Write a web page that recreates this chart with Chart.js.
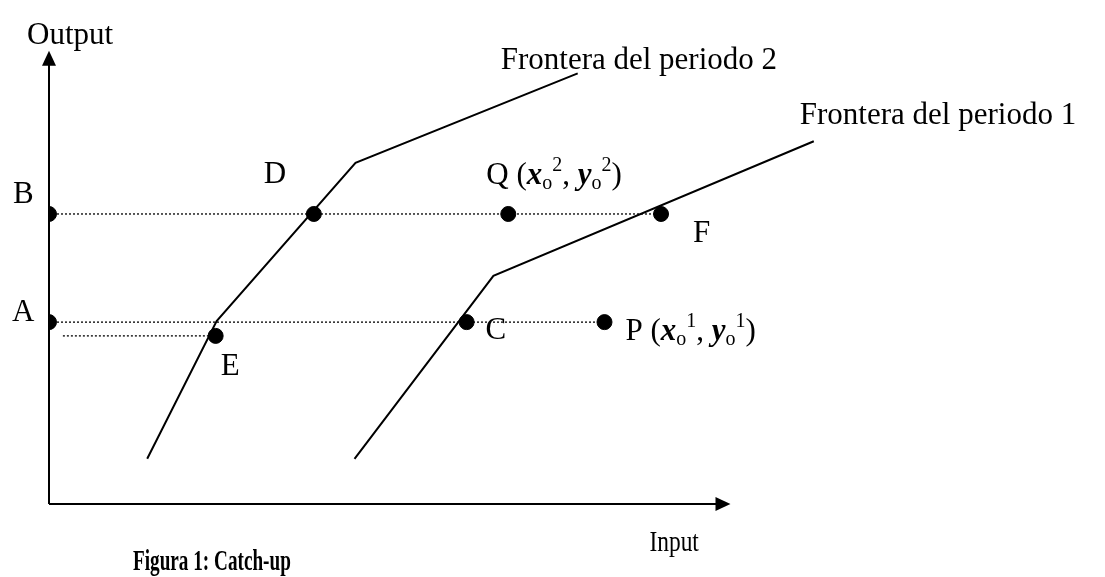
<!DOCTYPE html>
<html>
<head>
<meta charset="utf-8">
<script src="https://cdn.jsdelivr.net/npm/chart.js@4/dist/chart.umd.min.js"></script>
<style>
  html, body { margin: 0; padding: 0; background: #fff; }
  #wrap { width: 1105px; height: 577px; }
</style>
</head>
<body>
<div id="wrap"><canvas id="catchupChart" width="1105" height="577"></canvas></div>
<script>
// frontier polylines (input, output)
var frontier2X = [9.9, 16.9, 30.9, 53.3];
var frontier2Y = [4.6, 18.6, 34.7, 43.8];
var frontier1X = [30.8, 44.8, 77.1];
var frontier1Y = [4.6, 23.2, 36.9];

// marked points
var pointNames = ['B', 'A', 'D', 'Q', 'F', 'C', 'P', 'E'];
var pointX = [0, 0, 26.7, 46.3, 61.7, 42.1, 56.0, 16.8];
var pointY = [29.5, 18.5, 29.5, 29.5, 29.5, 18.5, 18.5, 17.1];

// dotted guide lines: [x from, x to, y]
var guideFrom = [0, 0, 1.4];
var guideTo = [61.7, 56.0, 16.8];
var guideY = [29.5, 18.5, 17.1];

// axis extents
var axisXEnd = 68.7;
var axisYEnd = 46.1;

var serif = '"Liberation Serif", "Times New Roman", serif';

function toXY(xs, ys) {
    return xs.map(function(x, i) { return { x: x, y: ys[i] }; });
}

var datasets = [];
datasets.push({
    type: 'line', data: toXY(frontier2X, frontier2Y),
    borderColor: '#000', borderWidth: 2, pointRadius: 0, tension: 0
});
datasets.push({
    type: 'line', data: toXY(frontier1X, frontier1Y),
    borderColor: '#000', borderWidth: 2, pointRadius: 0, tension: 0
});
for (var i = 0; i < guideY.length; i++) {
    datasets.push({
        type: 'line', data: [{ x: guideFrom[i], y: guideY[i] }, { x: guideTo[i], y: guideY[i] }],
        borderColor: '#000', borderWidth: 1.3, borderDash: [2, 2], pointRadius: 0
    });
}
datasets.push({
    type: 'scatter', data: toXY(pointX, pointY),
    backgroundColor: '#000', borderColor: '#000', pointRadius: 7.5
});

// label offsets in px from each point
var labelOffsets = {
    B: [-36, -11], A: [-37, -1], D: [-50, -31], F: [32, 28],
    C: [19, 17], E: [5, 39]
};

function drawRich(ctx, x, y, parts) {
    parts.forEach(function(p) {
        ctx.font = p.font;
        ctx.fillText(p.t, x, y + (p.dy || 0));
        x += ctx.measureText(p.t).width;
    });
}

function coordLabel(letter, n) {
    var big = '31px ' + serif, bi = 'italic bold 31px ' + serif, small = '20px ' + serif;
    return [
        { t: letter + ' (', font: big },
        { t: 'x', font: bi },
        { t: 'o', font: small, dy: 5 },
        { t: n, font: small, dy: -13 },
        { t: ', ', font: big },
        { t: 'y', font: bi },
        { t: 'o', font: small, dy: 5 },
        { t: n, font: small, dy: -13 },
        { t: ')', font: big }
    ];
}

function condensedText(ctx, text, font, x, y, sx) {
    ctx.save();
    ctx.translate(x, y);
    ctx.scale(sx, 1);
    ctx.font = font;
    ctx.fillText(text, 0, 0);
    ctx.restore();
}

var diagramPlugin = {
    id: 'diagram',
    beforeDatasetsDraw: function(chart) {
        var ctx = chart.ctx, xs = chart.scales.x, ys = chart.scales.y;
        var x0 = xs.getPixelForValue(0), y0 = ys.getPixelForValue(0);
        var xe = xs.getPixelForValue(axisXEnd), ye = ys.getPixelForValue(axisYEnd);
        ctx.save();
        ctx.strokeStyle = '#000';
        ctx.fillStyle = '#000';
        ctx.lineWidth = 2;
        ctx.beginPath();
        ctx.moveTo(x0, y0); ctx.lineTo(x0, ye + 14);
        ctx.moveTo(x0, y0); ctx.lineTo(xe - 14, y0);
        ctx.stroke();
        ctx.beginPath();
        ctx.moveTo(x0, ye); ctx.lineTo(x0 - 7, ye + 15); ctx.lineTo(x0 + 7, ye + 15); ctx.closePath();
        ctx.fill();
        ctx.beginPath();
        ctx.moveTo(xe, y0); ctx.lineTo(xe - 15, y0 - 7); ctx.lineTo(xe - 15, y0 + 7); ctx.closePath();
        ctx.fill();
        ctx.restore();
    },
    afterDatasetsDraw: function(chart) {
        var ctx = chart.ctx, xs = chart.scales.x, ys = chart.scales.y;
        ctx.save();
        ctx.fillStyle = '#000';
        ctx.textBaseline = 'alphabetic';
        ctx.textAlign = 'left';
        ctx.font = '31px ' + serif;

        pointNames.forEach(function(name, i) {
            var px = xs.getPixelForValue(pointX[i]), py = ys.getPixelForValue(pointY[i]);
            if (labelOffsets[name]) {
                ctx.font = '31px ' + serif;
                ctx.fillText(name, px + labelOffsets[name][0], py + labelOffsets[name][1]);
            } else if (name === 'Q') {
                drawRich(ctx, px - 22, py - 30, coordLabel('Q', '2'));
            } else if (name === 'P') {
                drawRich(ctx, px + 21, py + 18, coordLabel('P', '1'));
            }
        });

        ctx.font = '31px ' + serif;
        var f2 = frontier2X.length - 1, f1 = frontier1X.length - 1;
        ctx.fillText('Frontera del periodo 2',
            xs.getPixelForValue(frontier2X[f2]) - 77, ys.getPixelForValue(frontier2Y[f2]) - 4);
        ctx.fillText('Frontera del periodo 1',
            xs.getPixelForValue(frontier1X[f1]) - 14, ys.getPixelForValue(frontier1Y[f1]) - 17);

        var x0 = xs.getPixelForValue(0), y0 = ys.getPixelForValue(0);
        ctx.fillText('Output', x0 - 22, ys.getPixelForValue(axisYEnd) - 7);
        condensedText(ctx, 'Input', '30px ' + serif, xs.getPixelForValue(axisXEnd) - 81, y0 + 47, 0.78);

        // caption, condensed bold
        condensedText(ctx, 'Figura 1: Catch-up', 'bold 30px ' + serif, 133, y0 + 66, 0.64);
        ctx.restore();
    }
};

var ctx = document.getElementById('catchupChart').getContext('2d');
var chart = new Chart(ctx, {
    type: 'scatter',
    data: { datasets: datasets },
    options: {
        responsive: false,
        devicePixelRatio: 1,
        animation: false,
        layout: { padding: { left: 49, right: 0, top: 0, bottom: 73 } },
        plugins: { legend: { display: false }, tooltip: { enabled: false } },
        scales: {
            x: { type: 'linear', min: 0, max: 105.6, display: false },
            y: { type: 'linear', min: 0, max: 50.4, display: false }
        }
    },
    plugins: [diagramPlugin]
});
</script>
</body>
</html>
